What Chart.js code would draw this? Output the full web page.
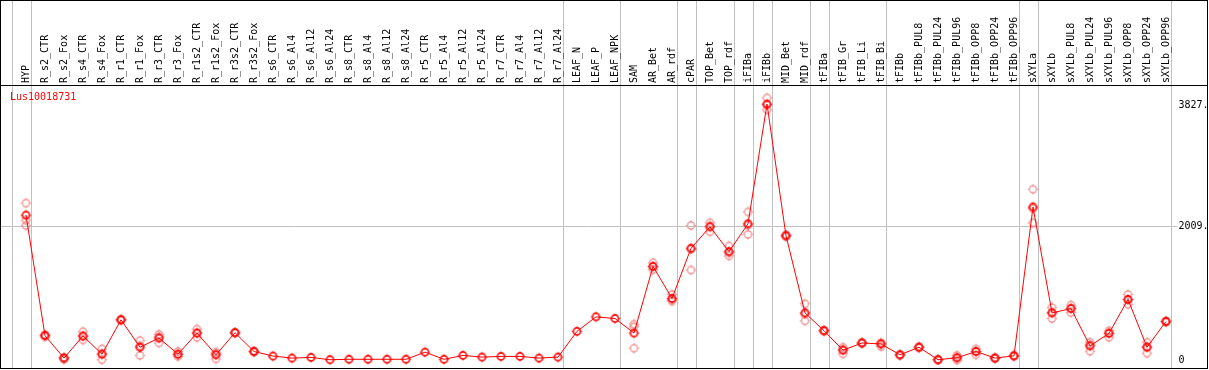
<!DOCTYPE html>
<html><head><meta charset="utf-8">
<script src="https://cdn.jsdelivr.net/npm/chart.js@4"></script>
<style>html,body{margin:0;padding:0;background:#fff}#wrap{width:1209px;height:370px;position:relative}</style>
</head><body><div id="wrap"><canvas id="c"></canvas></div>
<script>
const categories = ['HYP','R_s2_CTR','R_s2_Fox','R_s4_CTR','R_s4_Fox','R_r1_CTR','R_r1_Fox','R_r3_CTR','R_r3_Fox','R_r1s2_CTR','R_r1s2_Fox','R_r3s2_CTR','R_r3s2_Fox','R_s6_CTR','R_s6_Al4','R_s6_Al12','R_s6_Al24','R_s8_CTR','R_s8_Al4','R_s8_Al12','R_s8_Al24','R_r5_CTR','R_r5_Al4','R_r5_Al12','R_r5_Al24','R_r7_CTR','R_r7_Al4','R_r7_Al12','R_r7_Al24','LEAF_N','LEAF_P','LEAF_NPK','SAM','AR_Bet','AR_rdf','cPAR','TOP_Bet','TOP_rdf','iFIBa','iFIBb','MID_Bet','MID_rdf','tFIBa','tFIB_Gr','tFIB_Li','tFIB_Bi','tFIBb','tFIBb_PUL8','tFIBb_PUL24','tFIBb_PUL96','tFIBb_OPP8','tFIBb_OPP24','tFIBb_OPP96','sXYLa','sXYLb','sXYLb_PUL8','sXYLb_PUL24','sXYLb_PUL96','sXYLb_OPP8','sXYLb_OPP24','sXYLb_OPP96'];
const meanValues = [2180,368,30,362,89,606,193,332,89,406,79,412,129,60,30,40,5,12,12,12,12,119,12,70,45,55,55,30,45,432,650,625,406,1409,927,1681,2004,1632,2049,3849,1870,710,442,149,257,243,79,193,5,35,129,30,64,2302,710,774,213,402,912,193,580];
const rep1 = [2361,380,40,427,168,612,293,387,130,466,119,415,135,null,null,null,null,null,null,null,null,null,null,null,null,null,null,null,null,null,null,null,540,1463,987,2024,2064,1716,2228,3943,1885,848,450,193,265,260,85,200,10,70,168,35,70,2570,789,829,268,442,987,268,590];
const rep2 = [2024,350,10,302,5,600,70,257,55,342,19,405,120,null,null,null,null,null,null,null,null,null,null,null,null,null,null,null,null,null,null,null,179,1359,888,1354,1930,1567,1890,3765,1855,590,435,94,250,204,70,185,0,0,79,25,60,2064,625,714,134,342,838,104,570];
const rep3 = [2103,375,35,360,95,606,215,350,85,410,100,415,130,null,null,null,null,null,null,null,null,null,null,null,null,null,null,null,null,null,null,null,500,1405,906,1665,2018,1613,2029,3840,1870,692,442,160,257,243,80,193,5,35,130,30,64,2277,715,780,230,410,910,200,580];
const yTickValues = [0, 2009, 3827];
const groupEnds = [-1, 0, 28, 31, 34, 35, 37, 38, 39, 41, 42, 45, 52, 53, 60];
const geneName = 'Lus10018731';

const FONT = 'DejaVu Sans Mono';

function markerImage(color, lw) {
  const c = document.createElement('canvas');
  c.width = 13; c.height = 13;
  const g = c.getContext('2d');
  g.strokeStyle = color;
  g.lineWidth = lw;
  g.beginPath(); g.arc(6.5, 6.5, 3.6, 0, Math.PI * 2); g.stroke();
  g.lineWidth = 1;
  g.beginPath();
  g.moveTo(6.5, 1.5); g.lineTo(6.5, 3);
  g.moveTo(6.5, 10); g.lineTo(6.5, 11.5);
  g.moveTo(1.5, 6.5); g.lineTo(3, 6.5);
  g.moveTo(10, 6.5); g.lineTo(11.5, 6.5);
  g.stroke();
  return c;
}
const meanMarker = markerImage('#ff0000', 1.6);
const repMarker = markerImage('rgba(240,128,128,1)', 1.1);

const framePlugin = {
  id: 'frame',
  beforeDraw(chart) {
    const ctx = chart.ctx, xs = chart.scales.x, ys = chart.scales.y;
    ctx.save();
    ctx.strokeStyle = '#c0c0c0';
    ctx.lineWidth = 1;
    const step = xs.getPixelForValue(1) - xs.getPixelForValue(0);
    groupEnds.forEach(i => {
      const x = Math.round(xs.getPixelForValue(i) + step * 0.24) + 0.5;
      ctx.beginPath(); ctx.moveTo(x, 0); ctx.lineTo(x, 369); ctx.stroke();
    });
    const gy = Math.round(ys.getPixelForValue(2009)) + 0.5;
    ctx.beginPath(); ctx.moveTo(0, gy); ctx.lineTo(xs.right + 2, gy); ctx.stroke();
    ctx.restore();
  },
  afterDraw(chart) {
    const ctx = chart.ctx;
    ctx.save();
    ctx.strokeStyle = '#000';
    ctx.lineWidth = 1;
    ctx.strokeRect(0.5, 0.5, 1207, 368);
    ctx.beginPath(); ctx.moveTo(0, 85.5); ctx.lineTo(1208, 85.5); ctx.stroke();
    ctx.fillStyle = '#ff0000';
    ctx.font = '10px "' + FONT + '"';
    ctx.textBaseline = 'middle';
    ctx.textAlign = 'left';
    ctx.fillText(geneName, 10, 97);
    ctx.restore();
  }
};

const repStyle = {
  showLine: false,
  borderColor: 'rgba(240,128,128,1)',
  backgroundColor: 'rgba(0,0,0,0)',
  pointStyle: repMarker
};

new Chart(document.getElementById('c'), {
  type: 'line',
  data: {
    labels: categories,
    datasets: [
      { label: 'mean', data: meanValues, borderColor: '#ff0000', borderWidth: 1, tension: 0,
        backgroundColor: 'rgba(0,0,0,0)', pointStyle: meanMarker },
      Object.assign({ label: 'rep1', data: rep1 }, repStyle),
      Object.assign({ label: 'rep2', data: rep2 }, repStyle),
      Object.assign({ label: 'rep3', data: rep3 }, repStyle)
    ]
  },
  options: {
    responsive: true,
    maintainAspectRatio: false,
    animation: false,
    devicePixelRatio: 1,
    layout: { padding: { left: 16.5, right: 0, top: 0, bottom: 2 } },
    plugins: { legend: { display: false }, tooltip: { enabled: false }, title: { display: false } },
    scales: {
      x: {
        type: 'category',
        position: 'top',
        offset: true,
        grid: { display: false, drawTicks: false },
        border: { display: false },
        ticks: { font: { family: FONT, size: 10 }, color: '#000', minRotation: 90, maxRotation: 90, autoSkip: false, padding: 3, labelOffset: 12 },
        afterFit: s => { s.height = 86; s.paddingLeft = 0; s.paddingRight = 0; }
      },
      y: {
        position: 'right',
        min: -74,
        max: 4122,
        grid: { display: false, drawTicks: false },
        border: { display: false },
        afterBuildTicks: s => { s.ticks = yTickValues.map(v => ({ value: v })); },
        ticks: { font: { family: FONT, size: 10 }, color: '#000', padding: 3,
          callback: v => v === 0 ? '0' : v + '.' },
        afterFit: s => { s.width = 33.5; s.paddingTop = 0; s.paddingBottom = 0; }
      }
    }
  },
  plugins: [framePlugin]
});
</script></body></html>
